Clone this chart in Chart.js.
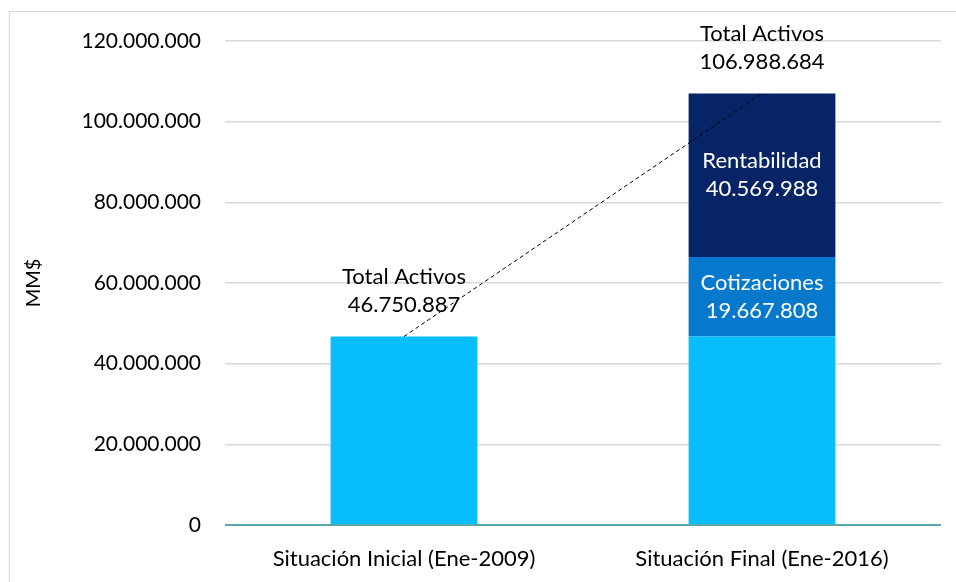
<!DOCTYPE html>
<html>
<head>
<meta charset="utf-8">
<script src="https://cdn.jsdelivr.net/npm/chart.js@4/dist/chart.umd.min.js"></script>
<style>
  html, body { margin: 0; padding: 0; background: #fff; }
  #frame { position: absolute; left: 9px; top: 11px; width: 960px; height: 600px; border: 1px solid #d9d9d9; }
  #chart { position: absolute; left: 0; top: 0; }
</style>
</head>
<body>
<div id="frame"></div>
<canvas id="chart" width="956" height="582"></canvas>
<script>
var categories = ["Situación Inicial (Ene-2009)", "Situación Final (Ene-2016)"];
var baseValues = [46750887, 46750887];
var cotizaciones = [null, 19667808];
var rentabilidad = [null, 40569988];
var totals = [46750887, 106988684];
var yTicks = [0, 20000000, 40000000, 60000000, 80000000, 100000000, 120000000];

var FONT = "Lato, 'Open Sans', sans-serif";

function fmt(v) {
    return String(v).replace(/\B(?=(\d{3})+(?!\d))/g, ".");
}

// draws the text labels on the bars and the totals above them
var labelPlugin = {
    id: 'labelPlugin',
    afterDatasetsDraw: function(chart) {
        var ctx = chart.ctx;
        ctx.save();
        ctx.font = "22px " + FONT;
        ctx.textAlign = 'center';
        ctx.textBaseline = 'middle';

        // inner segment labels
        var inner = [
            {ds: 1, name: 'Cotizaciones', data: cotizaciones},
            {ds: 2, name: 'Rentabilidad', data: rentabilidad}
        ];
        inner.forEach(function(s) {
            var meta = chart.getDatasetMeta(s.ds);
            meta.data.forEach(function(el, i) {
                if (s.data[i] == null) return;
                var mid = (el.y + el.base) / 2;
                ctx.fillStyle = '#ffffff';
                ctx.fillText(s.name, el.x, mid - 14);
                ctx.fillText(fmt(s.data[i]), el.x, mid + 14);
            });
        });

        // totals above bars
        var yScale = chart.scales.y;
        var xScale = chart.scales.x;
        totals.forEach(function(t, i) {
            var x = xScale.getPixelForValue(i);
            var top = yScale.getPixelForValue(t);
            ctx.fillStyle = '#000000';
            ctx.fillText('Total Activos', x, top - 60);
            ctx.fillText(fmt(t), x, top - 32);
        });
        ctx.restore();
    }
};

var ctx = document.getElementById('chart').getContext('2d');
var myChart = new Chart(ctx, {
    type: 'bar',
    data: {
        labels: categories,
        datasets: [
            {
                label: 'Base',
                data: baseValues,
                backgroundColor: '#07bdfb',
                stack: 'bars',
                order: 2
            },
            {
                label: 'Cotizaciones',
                data: cotizaciones,
                backgroundColor: '#0779cc',
                stack: 'bars',
                order: 2
            },
            {
                label: 'Rentabilidad',
                data: rentabilidad,
                backgroundColor: '#072466',
                stack: 'bars',
                order: 2
            },
            {
                type: 'line',
                label: 'Total',
                data: totals,
                borderColor: '#000000',
                borderWidth: 1,
                borderDash: [4, 3],
                pointRadius: 0,
                fill: false,
                stack: 'line',
                order: 1
            }
        ]
    },
    options: {
        responsive: false,
        animation: false,
        layout: { padding: { left: 0, top: 41, right: 15, bottom: 0 } },
        plugins: {
            legend: { display: false },
            tooltip: { enabled: false }
        },
        datasets: {
            bar: { barPercentage: 0.41, categoryPercentage: 1 }
        },
        scales: {
            x: {
                stacked: true,
                grid: { display: false },
                border: { display: false },
                ticks: {
                    color: '#000',
                    font: { family: FONT, size: 22 },
                    padding: 13,
                    maxRotation: 0
                },
                afterFit: function(scale) { scale.height = 57; }
            },
            y: {
                stacked: true,
                min: 0,
                max: 120000000,
                afterBuildTicks: function(scale) {
                    scale.ticks = yTicks.map(function(v) { return {value: v}; });
                },
                border: { display: false },
                grid: {
                    tickLength: 0,
                    lineWidth: function(c) { return c.tick && c.tick.value === 0 ? 2 : 1.5; },
                    color: function(c) { return c.tick && c.tick.value === 0 ? '#5ba8a8' : '#d9d9d9'; }
                },
                ticks: {
                    color: '#000',
                    font: { family: FONT, size: 21 },
                    padding: 24,
                    callback: function(v) { return fmt(v); }
                },
                title: {
                    display: true,
                    text: 'MM$',
                    color: '#000',
                    font: { family: FONT, size: 20 },
                    padding: { top: 22, bottom: 0 }
                },
                afterFit: function(scale) { scale.width = 225; }
            }
        }
    },
    plugins: [labelPlugin]
});
</script>
</body>
</html>
